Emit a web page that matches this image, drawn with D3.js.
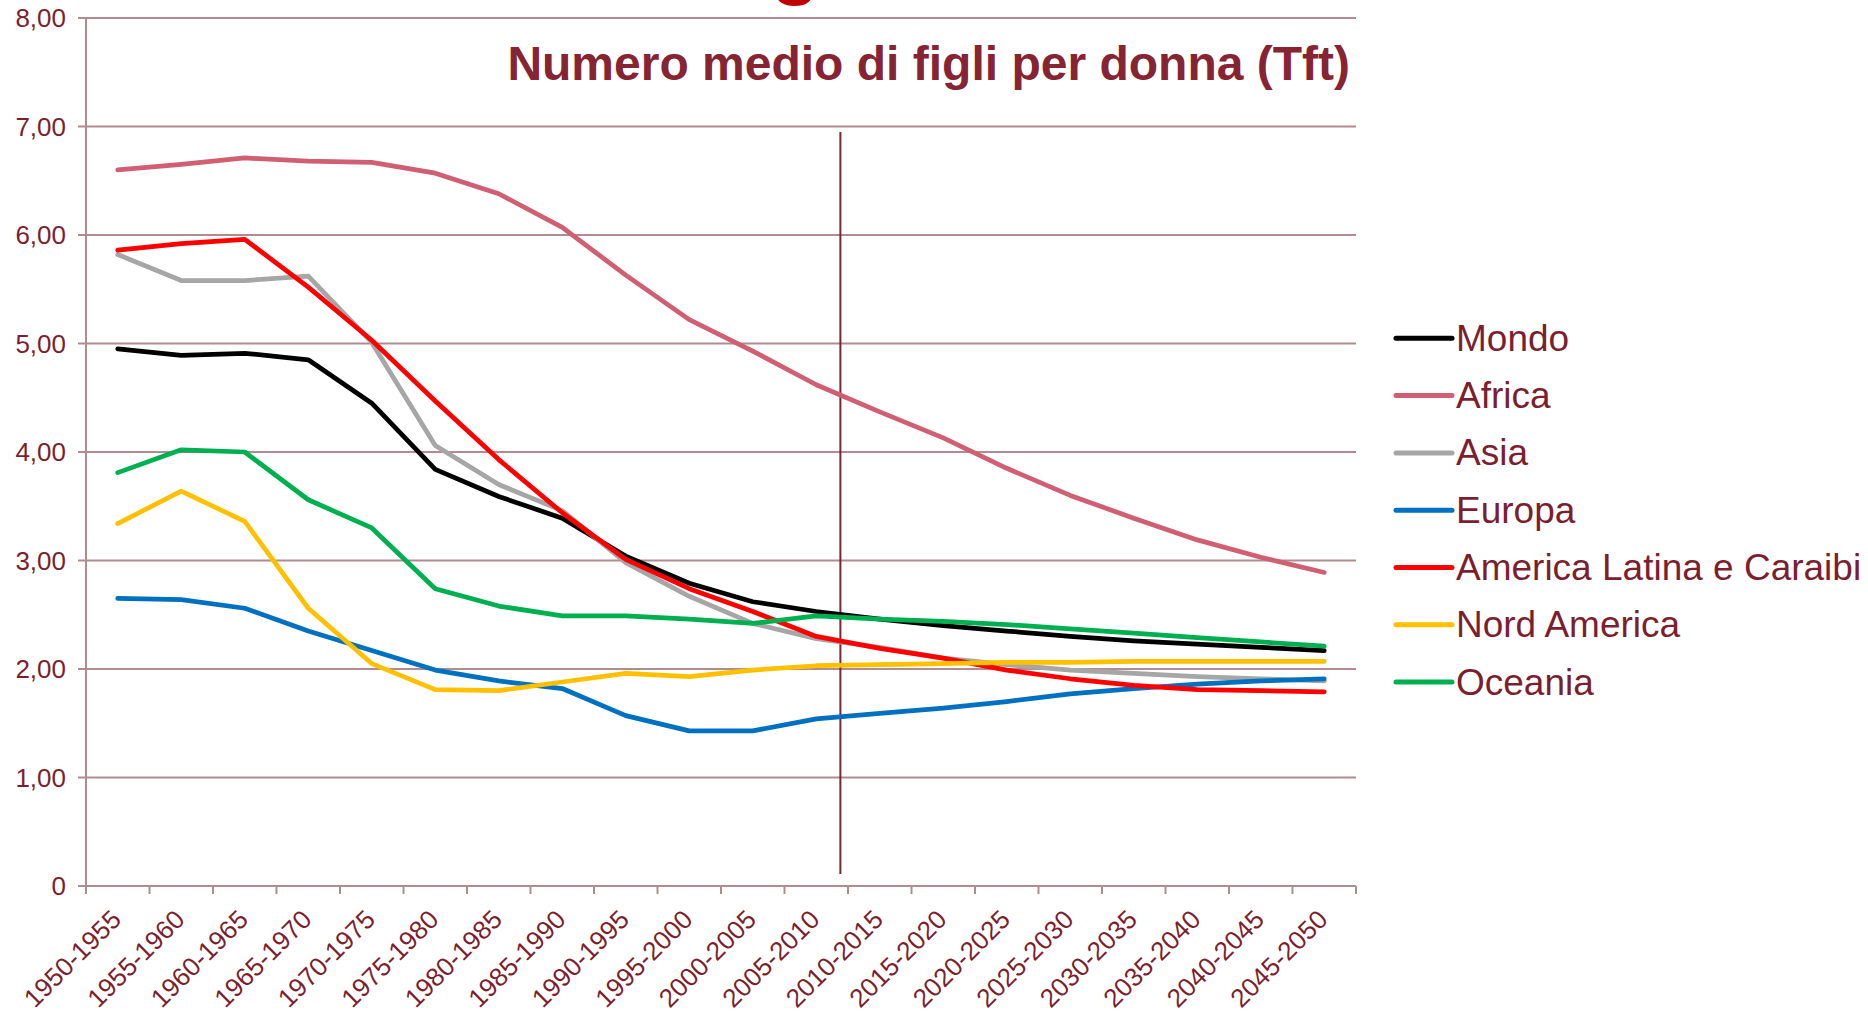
<!DOCTYPE html>
<html>
<head>
<meta charset="utf-8">
<script src="https://cdn.jsdelivr.net/npm/d3@7"></script>
<style>
  html, body { margin: 0; padding: 0; background: #ffffff; }
  svg { display: block; font-family: "Liberation Sans", Arial, sans-serif; }
</style>
</head>
<body>
<svg id="chart" width="1868" height="1013"></svg>
<script>
const categories = ["1950-1955","1955-1960","1960-1965","1965-1970","1970-1975","1975-1980","1980-1985","1985-1990","1990-1995","1995-2000","2000-2005","2005-2010","2010-2015","2015-2020","2020-2025","2025-2030","2030-2035","2035-2040","2040-2045","2045-2050"];

const seriesNames = ["Mondo","Africa","Asia","Europa","America Latina e Caraibi","Nord America","Oceania"];
const seriesColors = ["#000000","#D05F73","#A6A6A6","#0070C0","#FF0000","#FFC000","#00B050"];

const mondo    = [4.95,4.89,4.91,4.85,4.45,3.84,3.59,3.39,3.04,2.79,2.62,2.53,2.46,2.40,2.35,2.30,2.26,2.23,2.20,2.17];
const africa   = [6.60,6.65,6.71,6.68,6.67,6.57,6.38,6.07,5.63,5.22,4.93,4.62,4.37,4.13,3.85,3.60,3.39,3.19,3.03,2.89];
const asia     = [5.82,5.58,5.58,5.62,5.01,4.06,3.70,3.46,2.98,2.67,2.42,2.28,2.20,2.10,2.04,1.99,1.96,1.93,1.91,1.89];
const europa   = [2.65,2.64,2.56,2.35,2.17,1.99,1.89,1.82,1.57,1.43,1.43,1.54,1.59,1.64,1.70,1.77,1.82,1.86,1.89,1.91];
const latina   = [5.86,5.92,5.96,5.52,5.03,4.47,3.93,3.44,3.01,2.74,2.53,2.30,2.19,2.10,1.99,1.91,1.85,1.81,1.80,1.79];
const nordAm   = [3.34,3.64,3.36,2.56,2.05,1.81,1.80,1.88,1.96,1.93,1.99,2.03,2.04,2.05,2.06,2.06,2.07,2.07,2.07,2.07];
const oceania  = [3.81,4.02,4.00,3.56,3.30,2.74,2.58,2.49,2.49,2.46,2.42,2.49,2.46,2.44,2.41,2.37,2.33,2.29,2.25,2.21];

const seriesValues = [mondo, africa, asia, europa, latina, nordAm, oceania];

const yTickValues = [0,1,2,3,4,5,6,7,8];
const yTickLabels = ["0","1,00","2,00","3,00","4,00","5,00","6,00","7,00","8,00"];

const titleText = "Numero medio di figli per donna (Tft)";
const markerYear = 2009.4; // vertical marker between observed and projected data

// ---------- drawing ----------
const svg = d3.select("#chart");
const gridColor = "#B08C90";
const labelColor = "#7B1F30";
const titleColor = "#862433";

const plotLeft = 86, plotRight = 1356, plotTop = 18, plotBottom = 886;

const x = d3.scaleBand().domain(categories).range([plotLeft, plotRight]).padding(0);
const xYear = d3.scaleLinear().domain([1950, 2050]).range([plotLeft, plotRight]);
const y = d3.scaleLinear().domain([0, 8]).range([plotBottom, plotTop]);

// cut-off heading glyph at the very top
svg.append("text")
  .attr("x", 771).attr("y", -11)
  .attr("font-size", 80).attr("font-weight", "bold")
  .attr("fill", "#C00000")
  .text("g");

// gridlines (horizontal), including outward ticks on the left
svg.append("g").selectAll("line")
  .data(yTickValues.filter(v => v > 0))
  .join("line")
  .attr("x1", plotLeft - 8).attr("x2", plotRight)
  .attr("y1", d => y(d)).attr("y2", d => y(d))
  .attr("stroke", gridColor).attr("stroke-width", 2);

// y axis line
svg.append("line")
  .attr("x1", plotLeft).attr("x2", plotLeft)
  .attr("y1", y(8)).attr("y2", y(0))
  .attr("stroke", gridColor).attr("stroke-width", 2);

// x axis with ticks at band boundaries
const xAxisG = svg.append("g").attr("transform", `translate(0,${y(0)})`);
xAxisG.append("line")
  .attr("x1", plotLeft - 8).attr("x2", plotRight)
  .attr("y1", 0).attr("y2", 0)
  .attr("stroke", gridColor).attr("stroke-width", 2);
const boundaries = categories.map(c => x(c)).concat([x(categories[categories.length - 1]) + x.step()]);
xAxisG.selectAll("line.tick")
  .data(boundaries)
  .join("line")
  .attr("class", "tick")
  .attr("x1", d => d).attr("x2", d => d)
  .attr("y1", 0).attr("y2", 8)
  .attr("stroke", gridColor).attr("stroke-width", 2);

// y tick labels
svg.append("g").selectAll("text")
  .data(yTickValues)
  .join("text")
  .attr("x", 66)
  .attr("y", d => y(d))
  .attr("dy", "0.36em")
  .attr("text-anchor", "end")
  .attr("font-size", 26)
  .attr("fill", labelColor)
  .text((d, i) => yTickLabels[i]);

// x tick labels rotated
svg.append("g").selectAll("text")
  .data(categories)
  .join("text")
  .attr("text-anchor", "end")
  .attr("font-size", 26)
  .attr("fill", labelColor)
  .attr("transform", d => `translate(${x(d) + x.bandwidth() / 2 + 5},${y(0) + 35}) rotate(-45)`)
  .text(d => d);

// vertical marker line
svg.append("line")
  .attr("x1", xYear(markerYear)).attr("x2", xYear(markerYear))
  .attr("y1", y(6.95)).attr("y2", y(0.11))
  .attr("stroke", "#7A2535").attr("stroke-width", 2);

// series lines
const line = d3.line()
  .x((d, i) => x(categories[i]) + x.bandwidth() / 2)
  .y(d => y(d));

svg.append("g").selectAll("path")
  .data(seriesValues)
  .join("path")
  .attr("d", d => line(d))
  .attr("fill", "none")
  .attr("stroke", (d, i) => seriesColors[i])
  .attr("stroke-width", 4.75)
  .attr("stroke-linejoin", "round")
  .attr("stroke-linecap", "round");

// title
svg.append("text")
  .attr("x", 1350).attr("y", 80)
  .attr("text-anchor", "end")
  .attr("font-size", 48).attr("font-weight", "bold")
  .attr("fill", titleColor)
  .text(titleText);

// legend
const legend = svg.append("g");
const legItems = legend.selectAll("g")
  .data(seriesNames)
  .join("g")
  .attr("transform", (d, i) => `translate(1396,${338.3 + i * 57.3})`);
legItems.append("line")
  .attr("x1", 0).attr("x2", 56)
  .attr("y1", 0).attr("y2", 0)
  .attr("stroke", (d, i) => seriesColors[i])
  .attr("stroke-width", 5)
  .attr("stroke-linecap", "round");
legItems.append("text")
  .attr("x", 60).attr("y", 12.5)
  .attr("font-size", 37)
  .attr("fill", labelColor)
  .text(d => d);
</script>
</body>
</html>
